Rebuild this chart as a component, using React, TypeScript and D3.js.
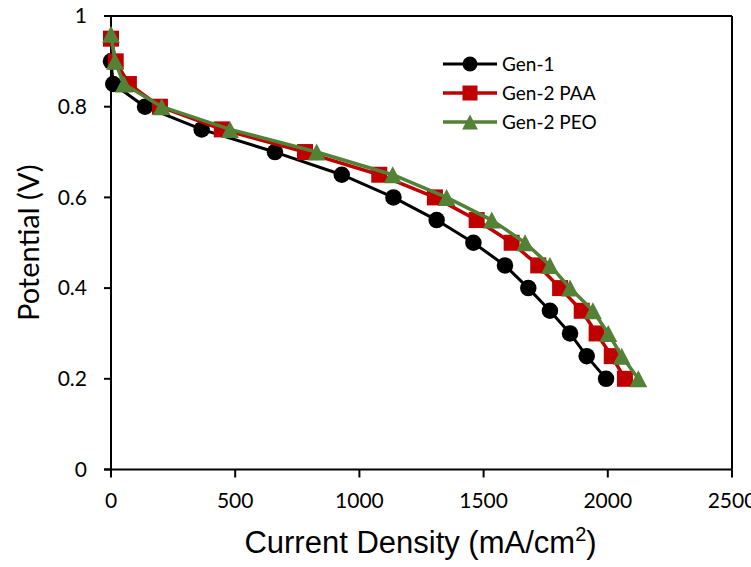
import React from "react";
import * as d3 from "d3";

const gen1Current = [0, 9, 137, 365, 660, 929, 1137, 1311, 1459, 1586, 1680, 1767, 1848, 1915, 1993];
const gen1Potential = [0.9, 0.85, 0.8, 0.75, 0.7, 0.65, 0.6, 0.55, 0.5, 0.45, 0.4, 0.35, 0.3, 0.25, 0.2];

const paaCurrent = [0, 19, 72, 197, 446, 781, 1080, 1304, 1472, 1613, 1720, 1808, 1895, 1955, 2016, 2069];
const paaPotential = [0.95, 0.9, 0.85, 0.8, 0.75, 0.7, 0.65, 0.6, 0.55, 0.5, 0.45, 0.4, 0.35, 0.3, 0.25, 0.2];

const peoCurrent = [0, 16, 52, 204, 479, 828, 1134, 1351, 1533, 1667, 1767, 1848, 1940, 2002, 2056, 2123];
const peoPotential = [0.96, 0.9, 0.85, 0.8, 0.75, 0.7, 0.65, 0.6, 0.55, 0.5, 0.45, 0.4, 0.35, 0.3, 0.25, 0.2];

const xTicks = [0, 500, 1000, 1500, 2000, 2500];
const yTicks = [0, 0.2, 0.4, 0.6, 0.8, 1];

const seriesNames = ["Gen-1", "Gen-2 PAA", "Gen-2 PEO"];

const W = 751;
const H = 567;
const left = 111;
const right = 732;
const top = 16;
const bottom = 469.5;

const FONT = "Lato, 'Open Sans', sans-serif";

type Kind = "circle" | "square" | "triangle";

function Marker({ kind, x, y, size, color }: { kind: Kind; x: number; y: number; size: number; color: string }) {
  if (kind === "circle") return <circle cx={x} cy={y} r={size / 2} fill={color} />;
  if (kind === "square")
    return <rect x={x - size / 2} y={y - size / 2} width={size} height={size} fill={color} />;
  const h = size;
  const w = size * 1.05;
  return (
    <polygon
      points={`${x},${y - h / 2} ${x + w / 2},${y + h / 2} ${x - w / 2},${y + h / 2}`}
      fill={color}
    />
  );
}

export default function App() {
  const x = d3.scaleLinear().domain([0, 2500]).range([left, right]);
  const y = d3.scaleLinear().domain([0, 1]).range([bottom, top]);

  const series = [
    { name: seriesNames[0], xs: gen1Current, ys: gen1Potential, color: "#000000", kind: "circle" as Kind, size: 16.5, lw: 3 },
    { name: seriesNames[1], xs: paaCurrent, ys: paaPotential, color: "#C00000", kind: "square" as Kind, size: 16, lw: 3.5 },
    { name: seriesNames[2], xs: peoCurrent, ys: peoPotential, color: "#538135", kind: "triangle" as Kind, size: 17, lw: 3.5 },
  ];

  const line = d3
    .line<[number, number]>()
    .x((d) => x(d[0]))
    .y((d) => y(d[1]));

  return (
    <svg width={W} height={H} style={{ position: "absolute", left: 0, top: 0, background: "#fff" }}>
      <rect x={0} y={0} width={W} height={H} fill="#fff" />
      {/* frame */}
      <line x1={left} x2={right} y1={top} y2={top} stroke="#000" strokeWidth={2} />
      <line x1={right} x2={right} y1={top} y2={bottom} stroke="#000" strokeWidth={2} />
      {/* y axis */}
      <line x1={left} x2={left} y1={top} y2={bottom} stroke="#000" strokeWidth={2} />
      {yTicks.map((t) => (
        <g key={"y" + t}>
          <line x1={left - 7} x2={left} y1={y(t)} y2={y(t)} stroke="#000" strokeWidth={2} />
          <text
            x={left - 24}
            y={y(t)}
            dy="0.35em"
            textAnchor="end"
            fontFamily={FONT}
            fontSize={21}
            fill="#000"
          >
            {String(t)}
          </text>
        </g>
      ))}
      {/* x axis */}
      <line x1={left - 7} x2={right} y1={bottom} y2={bottom} stroke="#000" strokeWidth={2} />
      {xTicks.map((t) => (
        <g key={"x" + t}>
          <line x1={x(t)} x2={x(t)} y1={bottom} y2={bottom + 8} stroke="#000" strokeWidth={2} />
          <text x={x(t)} y={bottom + 38} textAnchor="middle" fontFamily={FONT} fontSize={21} fill="#000">
            {String(t)}
          </text>
        </g>
      ))}
      {/* series */}
      {series.map((s) => {
        const pts: [number, number][] = s.xs.map((v, i) => [v, s.ys[i]]);
        return (
          <g key={s.name}>
            <path d={line(pts) || ""} fill="none" stroke={s.color} strokeWidth={s.lw} strokeLinejoin="round" />
            {pts.map((p, i) => (
              <Marker key={i} kind={s.kind} x={x(p[0])} y={y(p[1])} size={s.size} color={s.color} />
            ))}
          </g>
        );
      })}
      {/* legend */}
      {series.map((s, i) => {
        const ly = 64 + i * 29;
        return (
          <g key={"lg" + s.name}>
            <line x1={443} x2={497} y1={ly} y2={ly} stroke={s.color} strokeWidth={s.lw} />
            <Marker kind={s.kind} x={470} y={ly} size={15} color={s.color} />
            <text x={502} y={ly} dy="0.35em" fontFamily={FONT} fontSize={19} fill="#000">
              {s.name}
            </text>
          </g>
        );
      })}
      {/* axis titles */}
      <text
        x={(left + right) / 2 - 1}
        y={553}
        textAnchor="middle"
        fontFamily="'Liberation Sans', Arial, sans-serif"
        fontSize={31}
        fill="#000"
      >
        Current Density (mA/cm
        <tspan fontSize={20} dy={-12}>2</tspan>
        <tspan dy={12}>)</tspan>
      </text>
      <text
        transform={`translate(39, ${(top + bottom) / 2}) rotate(-90)`}
        textAnchor="middle"
        fontFamily={FONT}
        fontSize={29}
        fill="#000"
      >
        Potential (V)
      </text>
    </svg>
  );
}
